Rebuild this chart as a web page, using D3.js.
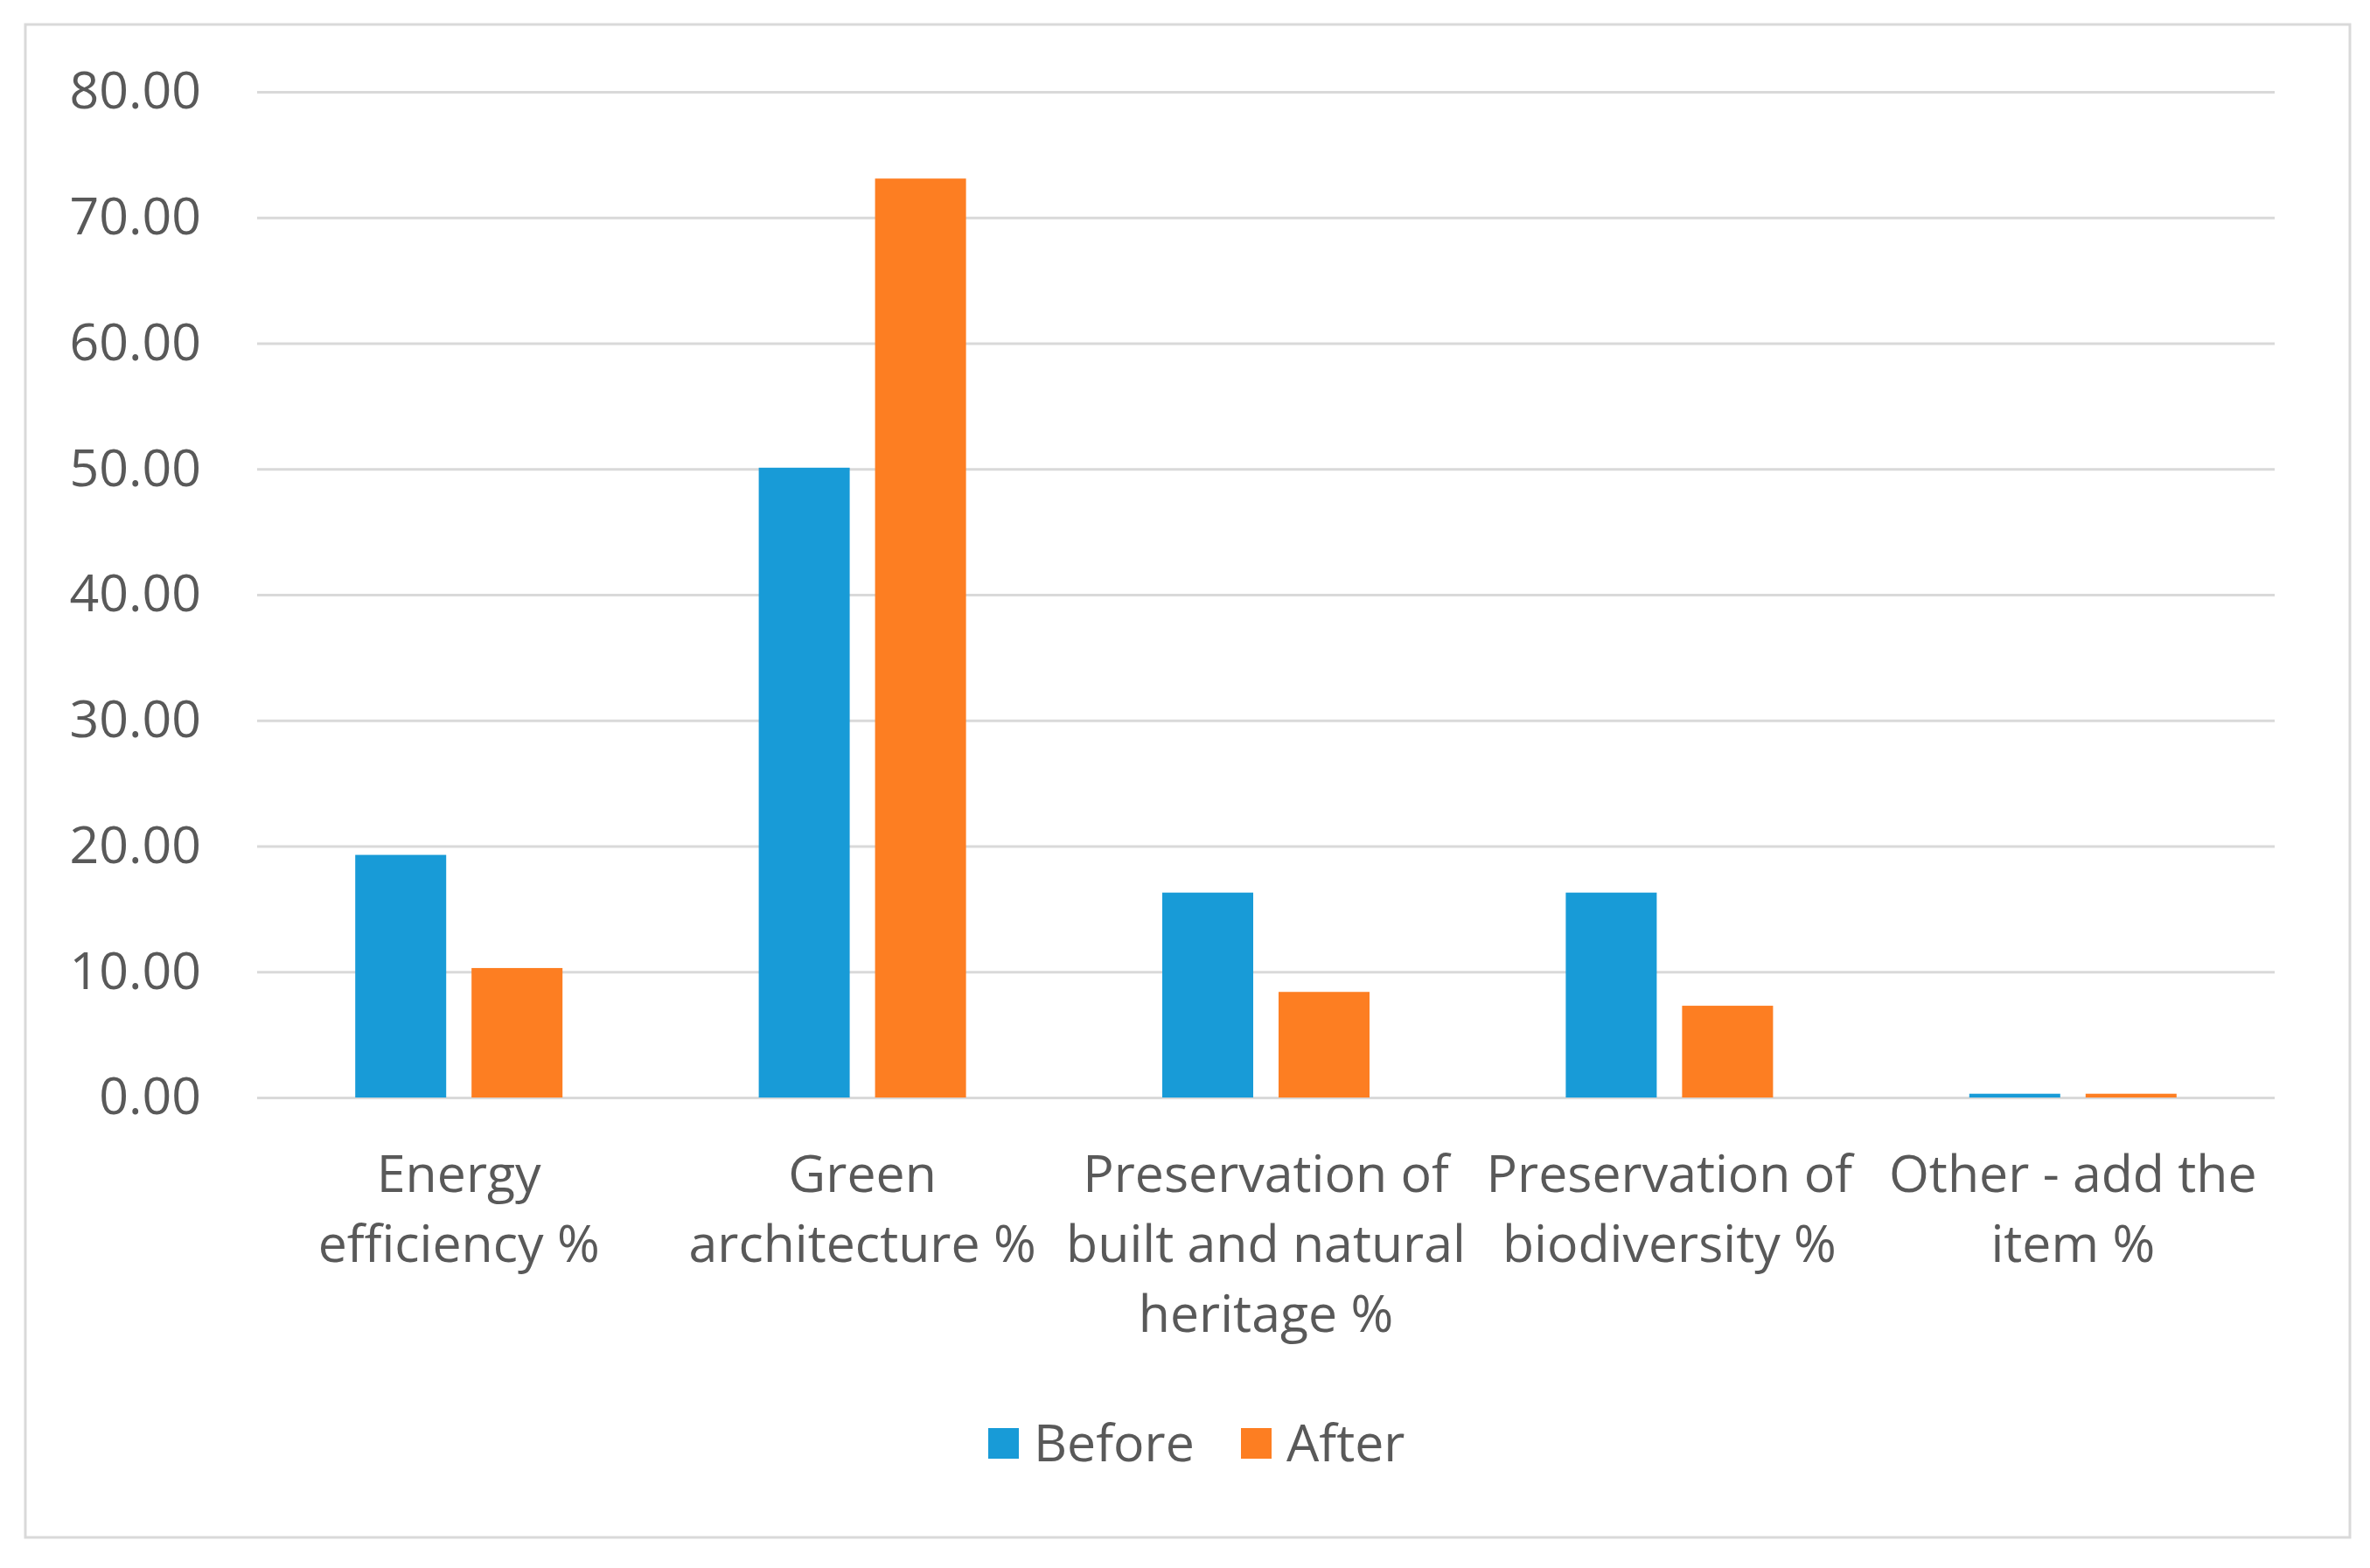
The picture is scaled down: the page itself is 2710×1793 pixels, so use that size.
<!DOCTYPE html>
<html>
<head>
<meta charset="utf-8">
<script src="https://cdn.jsdelivr.net/npm/d3@7"></script>
<style>
  html, body { margin: 0; padding: 0; background: #fff; }
  text { font-family: "Open Sans", sans-serif; fill: #595959; }
</style>
</head>
<body>
<svg id="chart"></svg>
<script>
const categories = [
    'Energy efficiency %',
    'Green architecture %',
    'Preservation of built and natural heritage %',
    'Preservation of biodiversity %',
    'Other - add the item %'
]
const labelLines = [
    ['Energy', 'efficiency %'],
    ['Green', 'architecture %'],
    ['Preservation of', 'built and natural', 'heritage %'],
    ['Preservation of', 'biodiversity %'],
    ['Other - add the', 'item %']
]
const series = ['Before', 'After']
const before = [19.3, 50.1, 16.3, 16.3, 0.3]
const after = [10.3, 73.1, 8.4, 7.3, 0.3]
const yTicks = [0, 10, 20, 30, 40, 50, 60, 70, 80]
const colors = ['#189bd7', '#fd7e22']

buildChart()

function buildChart() {

    const width = 2710
    const height = 1793
    const left = 294, right = 2601, top = 105, bottom = 1255
    const fontSize = '59px'

    const svg = d3.select('#chart')
        .attr('width', width)
        .attr('height', height)

    svg.append('rect')
        .attr('width', '100%')
        .attr('height', '100%')
        .style('fill', '#fff')

    // chart frame
    svg.append('rect')
        .attr('x', 29)
        .attr('y', 28)
        .attr('width', 2658)
        .attr('height', 1730)
        .style('fill', 'none')
        .style('stroke', '#d9d9d9')
        .style('stroke-width', 3)

    const x = d3.scaleBand()
        .domain(categories)
        .range([left, right])

    const groupW = 237
    const xs = d3.scaleBand()
        .domain(series)
        .range([(x.bandwidth() - groupW) / 2, (x.bandwidth() + groupW) / 2])
        .paddingInner(0.218)

    const y = d3.scaleLinear()
        .domain([0, 80])
        .range([bottom, top])

    // gridlines + labels
    const yAxis = svg.append('g')
        .attr('transform', `translate(${left},0)`)
        .call(d3.axisLeft(y)
            .tickValues(yTicks)
            .tickFormat(d3.format('.2f'))
            .tickSize(-(right - left))
            .tickPadding(64))
    yAxis.select('.domain').remove()
    yAxis.selectAll('.tick line')
        .style('stroke', '#d9d9d9')
        .style('stroke-width', 3)
    yAxis.selectAll('.tick text')
        .style('font-size', fontSize)
        .style('fill', '#595959')
        .style('font-family', '"Open Sans", sans-serif')

    const rows = categories.map((c, i) => ({ cat: c, values: [before[i], after[i]] }))

    const groups = svg.selectAll('.cat')
        .data(rows)
        .join('g')
        .attr('class', 'cat')
        .attr('transform', d => `translate(${x(d.cat)},0)`)

    groups.selectAll('rect')
        .data(d => d.values.map((v, j) => ({ s: series[j], v: v, j: j })))
        .join('rect')
        .attr('x', d => xs(d.s))
        .attr('width', xs.bandwidth())
        .attr('y', d => y(d.v))
        .attr('height', d => y(0) - y(d.v))
        .style('fill', d => colors[d.j])

    // category labels
    groups.each(function (d, i) {
        const t = d3.select(this).append('text')
            .attr('text-anchor', 'middle')
            .style('font-size', fontSize)
        t.selectAll('tspan')
            .data(labelLines[i])
            .join('tspan')
            .attr('x', x.bandwidth() / 2)
            .attr('y', (l, k) => 1363 + k * 80)
            .text(l => l)
    })

    // legend
    const legend = svg.append('g')
        .attr('transform', 'translate(1130,1650)')
    const lx = [0, 289]
    series.forEach((s, i) => {
        legend.append('rect')
            .attr('x', lx[i])
            .attr('y', -17)
            .attr('width', 35)
            .attr('height', 35)
            .style('fill', colors[i])
        legend.append('text')
            .attr('x', lx[i] + 52)
            .attr('y', 21)
            .style('font-size', fontSize)
            .text(s)
    })
}
</script>
</body>
</html>
